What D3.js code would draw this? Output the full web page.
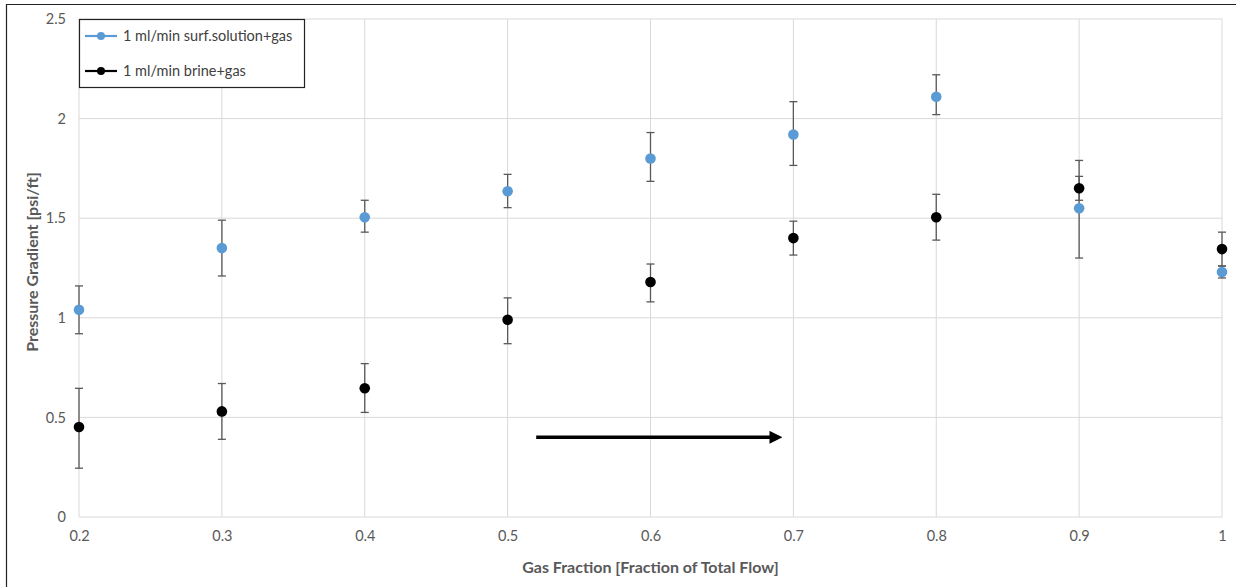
<!DOCTYPE html>
<html>
<head>
<meta charset="utf-8">
<script src="https://cdnjs.cloudflare.com/ajax/libs/d3/7.8.5/d3.min.js"></script>
<style>
  body { margin: 0; background: #fff; }
  svg { display: block; font-family: Lato, "Open Sans", sans-serif; }
</style>
</head>
<body>
<svg id="chart" width="1236" height="587"></svg>
<script>
// gas fraction on x
var gasFraction = [0.2, 0.3, 0.4, 0.5, 0.6, 0.7, 0.8, 0.9, 1.0];

// 1 ml/min surf.solution+gas
var surfValue = [1.04, 1.35, 1.505, 1.635, 1.80, 1.92, 2.11, 1.55, 1.23];
var surfLow   = [0.92, 1.21, 1.43, 1.553, 1.685, 1.765, 2.02, 1.30, 1.20];
var surfHigh  = [1.16, 1.49, 1.59, 1.72, 1.93, 2.085, 2.22, 1.71, 1.26];

// 1 ml/min brine+gas
var brineValue = [0.452, 0.53, 0.646, 0.99, 1.18, 1.40, 1.505, 1.65, 1.345];
var brineLow   = [0.245, 0.39, 0.525, 0.87, 1.08, 1.315, 1.39, 1.59, 1.26];
var brineHigh  = [0.646, 0.67, 0.77, 1.10, 1.27, 1.485, 1.62, 1.79, 1.43];

var xTicks = [0.2, 0.3, 0.4, 0.5, 0.6, 0.7, 0.8, 0.9, 1];
var yTicks = [0, 0.5, 1, 1.5, 2, 2.5];

// arrow annotation (data coords)
var arrowFrom = [0.52, 0.40];
var arrowTo   = [0.69, 0.40];

var svg = d3.select("#chart");

var x = d3.scaleLinear().domain([0.2, 1]).range([79, 1222]);
var y = d3.scaleLinear().domain([0, 2.5]).range([517, 19]);

// outer frame
svg.append("path")
  .attr("d", "M6.5,600 V4.5 H1240")
  .attr("fill", "none")
  .attr("stroke", "#222")
  .attr("stroke-width", 1.2);

// grid
svg.append("g")
  .selectAll("line.h")
  .data(yTicks)
  .enter()
  .append("line")
  .attr("x1", x(0.2)).attr("x2", x(1))
  .attr("y1", d => y(d)).attr("y2", d => y(d))
  .attr("stroke", "#d9d9d9");

svg.append("g")
  .selectAll("line.v")
  .data(xTicks)
  .enter()
  .append("line")
  .attr("x1", d => x(d)).attr("x2", d => x(d))
  .attr("y1", y(0)).attr("y2", y(2.5))
  .attr("stroke", "#d9d9d9");

// axes (labels only)
var yAxis = d3.axisLeft(y).tickValues(yTicks).tickSize(0).tickPadding(13)
  .tickFormat(d => d3.format("")(d));
var gy = svg.append("g").attr("transform", "translate(" + x(0.2) + ",0)").call(yAxis);
gy.select(".domain").remove();
gy.selectAll("text").attr("fill", "#595959").style("font-size", "14.5px").style("font-family", "Lato, sans-serif");

var xAxis = d3.axisBottom(x).tickValues(xTicks).tickSize(0).tickPadding(14)
  .tickFormat(d => d3.format("")(d));
var gx = svg.append("g").attr("transform", "translate(0," + y(0) + ")").call(xAxis);
gx.select(".domain").remove();
gx.selectAll("text").attr("fill", "#595959").style("font-size", "14.5px").style("font-family", "Lato, sans-serif");

// axis titles
svg.append("text")
  .attr("x", (x(0.2) + x(1)) / 2)
  .attr("y", 573)
  .attr("text-anchor", "middle")
  .attr("fill", "#595959")
  .style("font-size", "16px")
  .style("font-weight", "bold")
  .text("Gas Fraction [Fraction of Total Flow]");

svg.append("text")
  .attr("transform", "translate(38," + 262 + ") rotate(-90)")
  .attr("text-anchor", "middle")
  .attr("fill", "#595959")
  .style("font-size", "16px")
  .style("font-weight", "bold")
  .text("Pressure Gradient [psi/ft]");

// series
var series = [
  { name: "1 ml/min surf.solution+gas", color: "#5b9bd5", v: surfValue, lo: surfLow, hi: surfHigh },
  { name: "1 ml/min brine+gas", color: "#000000", v: brineValue, lo: brineLow, hi: brineHigh }
];

series.forEach(function (s) {
  var rows = gasFraction.map((g, i) => ({ g: g, v: s.v[i], lo: s.lo[i], hi: s.hi[i] }));
  var eb = svg.append("g").attr("stroke", "#595959").attr("stroke-width", 1.3);
  eb.selectAll("line.bar").data(rows).enter().append("line")
    .attr("x1", d => x(d.g)).attr("x2", d => x(d.g))
    .attr("y1", d => y(d.lo)).attr("y2", d => y(d.hi));
  eb.selectAll("line.top").data(rows).enter().append("line")
    .attr("x1", d => x(d.g) - 4).attr("x2", d => x(d.g) + 4)
    .attr("y1", d => y(d.hi)).attr("y2", d => y(d.hi));
  eb.selectAll("line.bot").data(rows).enter().append("line")
    .attr("x1", d => x(d.g) - 4).attr("x2", d => x(d.g) + 4)
    .attr("y1", d => y(d.lo)).attr("y2", d => y(d.lo));
});

series.forEach(function (s) {
  svg.append("g")
    .selectAll("circle")
    .data(gasFraction.map((g, i) => [g, s.v[i]]))
    .enter()
    .append("circle")
    .attr("cx", d => x(d[0]))
    .attr("cy", d => y(d[1]))
    .attr("r", 5.3)
    .attr("fill", s.color);
});

// arrow
svg.append("defs").append("marker")
  .attr("id", "head")
  .attr("viewBox", "0 0 10 10")
  .attr("refX", 2).attr("refY", 5)
  .attr("markerWidth", 3.6).attr("markerHeight", 3.6)
  .attr("orient", "auto")
  .append("path")
  .attr("d", "M0,0 L10,5 L0,10 z")
  .attr("fill", "#000");

svg.append("line")
  .attr("x1", x(arrowFrom[0])).attr("y1", y(arrowFrom[1]))
  .attr("x2", x(arrowTo[0]) - 7).attr("y2", y(arrowTo[1]))
  .attr("stroke", "#000")
  .attr("stroke-width", 3.6)
  .attr("marker-end", "url(#head)");

// legend
var lg = svg.append("g").attr("transform", "translate(79,19)");
lg.append("rect")
  .attr("x", 0.5).attr("y", 0.5)
  .attr("width", 225).attr("height", 68)
  .attr("fill", "#fff")
  .attr("stroke", "#222")
  .attr("stroke-width", 1.2);

series.forEach(function (s, i) {
  var ly = 17 + i * 35;
  lg.append("line")
    .attr("x1", 6).attr("x2", 38)
    .attr("y1", ly).attr("y2", ly)
    .attr("stroke", s.color)
    .attr("stroke-width", 2.2);
  lg.append("circle")
    .attr("cx", 22).attr("cy", ly).attr("r", 4)
    .attr("fill", s.color);
  lg.append("text")
    .attr("x", 44).attr("y", ly + 5)
    .attr("fill", "#404040")
    .style("font-size", "14.5px")
    .text(s.name);
});
</script>
</body>
</html>
